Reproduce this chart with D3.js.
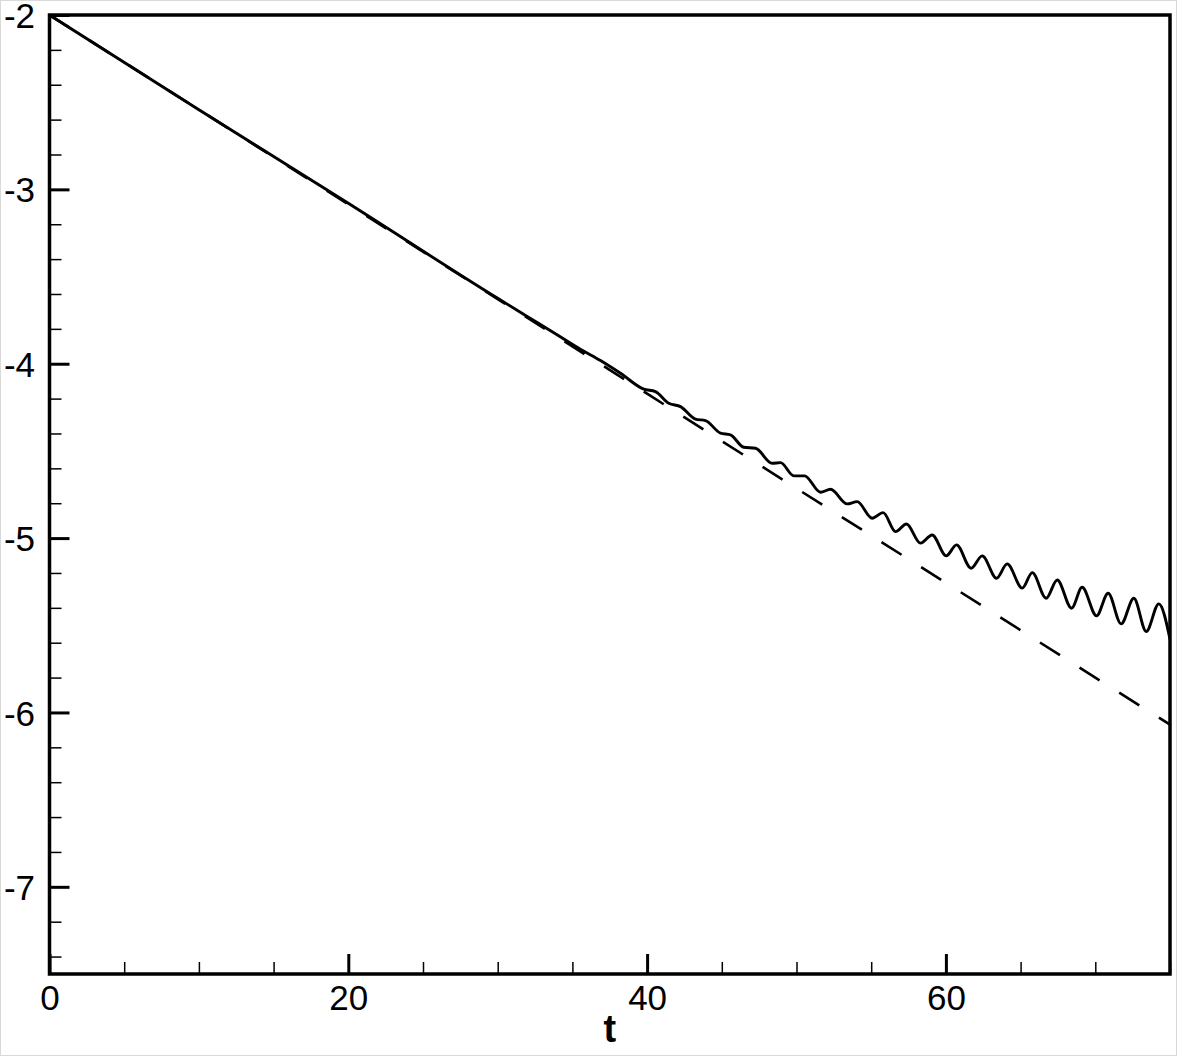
<!DOCTYPE html>
<html>
<head>
<meta charset="utf-8">
<script src="https://cdn.jsdelivr.net/npm/d3@7"></script>
<style>
  html, body { margin: 0; padding: 0; background: #fff; }
  svg { display: block; }
  text { font-family: "Liberation Sans", Arial, Helvetica, sans-serif; fill: #000; }
</style>
</head>
<body>
<svg id="chart" width="1177" height="1056"></svg>
<script>
// ---- data ----
const xMajorTicks = [0, 20, 40, 60];
const xMinorTicks = [5, 10, 15, 25, 30, 35, 45, 50, 55, 65, 70, 75];
const yMajorTicks = [-2, -3, -4, -5, -6, -7];
const yMinorTicks = [-2.2, -2.4, -2.6, -2.8, -3.2, -3.4, -3.6, -3.8, -4.2, -4.4, -4.6, -4.8,
                     -5.2, -5.4, -5.6, -5.8, -6.2, -6.4, -6.6, -6.8, -7.2, -7.4];
const xTitle = "t";

// dashed series (nearly straight decay)
const dashedT = [0, 10, 20, 30, 40, 50, 59, 70, 75];
const dashedV = [-2.0, -2.543, -3.086, -3.629, -4.172, -4.715, -5.202, -5.80, -6.07];

// solid series (decay with growing oscillation)
const solidT = [0, 10, 20, 30, 32, 34, 35.5, 36.88, 38.22, 39.78, 40.56, 41.45, 42.24, 43.24, 43.91,
  44.91, 45.58, 46.47, 47.26, 48.37, 48.93, 49.82, 50.54, 51.61, 52.28, 53.39, 54.06,
  55.07, 55.80, 56.63, 57.36, 58.30, 59.08, 60.02, 60.71, 61.69, 62.43, 63.39, 64.10,
  65.11, 65.78, 66.71, 67.45, 68.41, 69.12, 70.08, 70.86, 71.73, 72.58, 73.41, 74.25, 75.0];
const solidV = [-2.0, -2.543, -3.08, -3.625, -3.73, -3.835, -3.915, -3.982, -4.055, -4.146, -4.160, -4.227, -4.246, -4.318, -4.326,
  -4.398, -4.408, -4.479, -4.485, -4.571, -4.567, -4.643, -4.643, -4.737, -4.720, -4.804, -4.791,
  -4.886, -4.854, -4.963, -4.919, -5.029, -4.982, -5.102, -5.039, -5.173, -5.102, -5.230, -5.148,
  -5.287, -5.198, -5.345, -5.240, -5.402, -5.282, -5.446, -5.316, -5.492, -5.345, -5.536, -5.377, -5.58];

// ---- drawing ----
const svg = d3.select("#chart");
const L = 49.5, R = 1170, T = 15, B = 974;
const x = d3.scaleLinear().domain([0, 75]).range([L, R]);
const y = d3.scaleLinear().domain([-7.5, -2]).range([B, T]);
const fmt = d => String(d);

// light outer border
svg.append("rect").attr("x", 0.5).attr("y", 0.5).attr("width", 1176).attr("height", 1055)
  .attr("fill", "none").attr("stroke", "#d9d9d9").attr("stroke-width", 1);

svg.append("clipPath").attr("id", "clip").append("rect")
  .attr("x", L).attr("y", T).attr("width", R - L).attr("height", B - T);

const plot = svg.append("g").attr("clip-path", "url(#clip)");

const line = d3.line().x(d => x(d[0])).y(d => y(d[1])).curve(d3.curveMonotoneX);

const dashedData = dashedT.map((t, i) => [t, dashedV[i]]);
const solidData = solidT.map((t, i) => [t, solidV[i]]);

plot.append("path").datum(dashedData)
  .attr("d", d3.line().x(d => x(d[0])).y(d => y(d[1])))
  .attr("fill", "none").attr("stroke", "#000").attr("stroke-width", 2.6)
  .attr("stroke-dasharray", "23.7,23.2");

plot.append("path").datum(solidData)
  .attr("d", line)
  .attr("fill", "none").attr("stroke", "#000").attr("stroke-width", 2.9)
  .attr("stroke-linejoin", "round");

// axes: minor ticks
svg.append("g").attr("transform", `translate(0,${B})`)
  .call(d3.axisBottom(x).tickValues(xMinorTicks).tickSize(-12).tickFormat(""))
  .call(g => g.select(".domain").remove())
  .call(g => g.selectAll("line").attr("stroke", "#000").attr("stroke-width", 1.5));

svg.append("g").attr("transform", `translate(${L},0)`)
  .call(d3.axisLeft(y).tickValues(yMinorTicks).tickSize(-12).tickFormat(""))
  .call(g => g.select(".domain").remove())
  .call(g => g.selectAll("line").attr("stroke", "#000").attr("stroke-width", 1.5));

// axes: major ticks with labels
svg.append("g").attr("transform", `translate(0,${B})`)
  .call(d3.axisBottom(x).tickValues(xMajorTicks).tickSize(-20).tickPadding(11).tickFormat(fmt))
  .call(g => g.select(".domain").remove())
  .call(g => g.selectAll("line").attr("stroke", "#000").attr("stroke-width", 3))
  .call(g => g.selectAll("text").attr("font-size", 35).attr("font-family", "Liberation Sans, Arial, sans-serif").attr("fill", "#000"));

svg.append("g").attr("transform", `translate(${L},0)`)
  .call(d3.axisLeft(y).tickValues(yMajorTicks).tickSize(-20).tickPadding(14.5).tickFormat(fmt))
  .call(g => g.select(".domain").remove())
  .call(g => g.selectAll("line").attr("stroke", "#000").attr("stroke-width", 3))
  .call(g => g.selectAll("text").attr("font-size", 35).attr("dy", "0.36em").attr("font-family", "Liberation Sans, Arial, sans-serif").attr("fill", "#000"));

// frame
svg.append("rect").attr("x", L).attr("y", T).attr("width", R - L).attr("height", B - T)
  .attr("fill", "none").attr("stroke", "#000").attr("stroke-width", 3.5);

// axis title
svg.append("text").attr("x", x(37.5)).attr("y", 1042)
  .attr("text-anchor", "middle").attr("font-size", 38).attr("font-weight", "bold")
  .text(xTitle);
</script>
</body>
</html>
